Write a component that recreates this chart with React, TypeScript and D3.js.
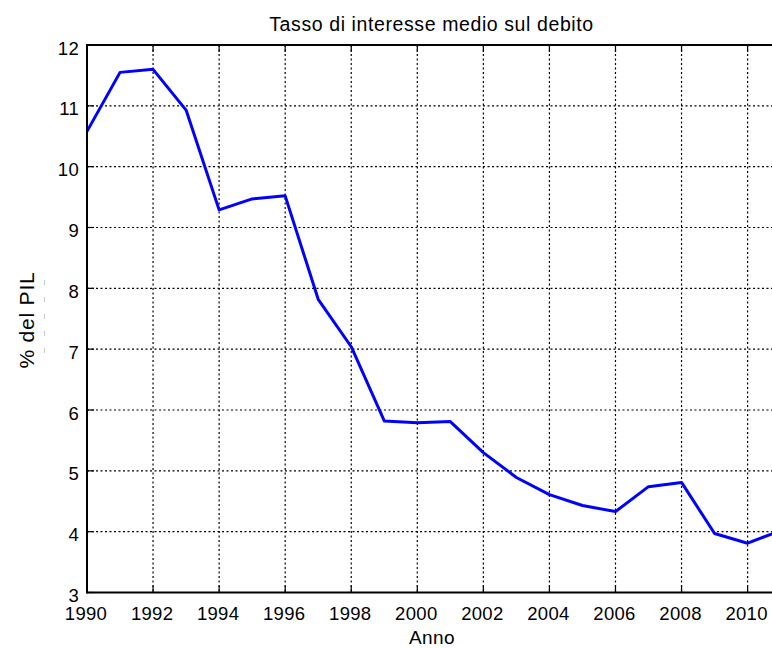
import React from "react";
import * as d3 from "d3";

const years = [1990, 1991, 1992, 1993, 1994, 1995, 1996, 1997, 1998, 1999, 2000, 2001, 2002, 2003, 2004, 2005, 2006, 2007, 2008, 2009, 2010, 2011];
const rates = [10.58, 11.55, 11.6, 10.93, 9.29, 9.47, 9.52, 7.82, 7.04, 5.82, 5.79, 5.81, 5.3, 4.89, 4.61, 4.43, 4.33, 4.74, 4.81, 3.97, 3.81, 4.02];
const xTicks = [1990, 1992, 1994, 1996, 1998, 2000, 2002, 2004, 2006, 2008, 2010];
const yTicks = [3, 4, 5, 6, 7, 8, 9, 10, 11, 12];
const title = "Tasso di interesse medio sul debito";
const xLabel = "Anno";
const yLabel = "% del PIL";

const W = 772;
const H = 648;
const left = 87;
const top = 45;
const bottom = 592.5;
const pxPerYear = 33.03;

export default function App() {
  const x = d3.scaleLinear().domain([1990, 2011]).range([left, left + 21 * pxPerYear]);
  const y = d3.scaleLinear().domain([3, 12]).range([bottom, top]);
  const line = d3
    .line<number>()
    .x((_, i) => x(years[i]))
    .y((d) => y(d));
  const right = x(2011);
  const font = "'Liberation Sans', Arial, Helvetica, sans-serif";
  return (
    <svg
      width={W}
      height={H}
      style={{ position: "absolute", left: 0, top: 0, background: "#fff" }}
      fontFamily={font}
    >
      <rect x={0} y={0} width={W} height={H} fill="#fff" />
      {/* grid */}
      {xTicks.slice(1).map((t) => (
        <line key={"gx" + t} x1={x(t)} x2={x(t)} y1={top} y2={bottom} stroke="#000" strokeWidth={1.2} strokeDasharray="2,2.5" />
      ))}
      {yTicks.slice(1, -1).map((t) => (
        <line key={"gy" + t} x1={left} x2={right} y1={y(t)} y2={y(t)} stroke="#000" strokeWidth={1.2} strokeDasharray="2,2.5" />
      ))}
      {/* ticks */}
      {xTicks.map((t) => (
        <g key={"tx" + t}>
          <line x1={x(t)} x2={x(t)} y1={bottom} y2={bottom - 7} stroke="#000" strokeWidth={1.2} />
          <line x1={x(t)} x2={x(t)} y1={top} y2={top + 7} stroke="#000" strokeWidth={1.2} />
        </g>
      ))}
      {yTicks.map((t) => (
        <line key={"ty" + t} x1={left} x2={left + 7} y1={y(t)} y2={y(t)} stroke="#000" strokeWidth={1.2} />
      ))}
      {/* data line */}
      <path d={line(rates) || ""} fill="none" stroke="#0000ff" strokeWidth={3} strokeLinejoin="round" />
      {/* axes box */}
      <line x1={left} x2={right} y1={top} y2={top} stroke="#000" strokeWidth={2} />
      <line x1={left} x2={right} y1={bottom} y2={bottom} stroke="#000" strokeWidth={2} />
      <line x1={left} x2={left} y1={top - 1} y2={bottom + 1} stroke="#000" strokeWidth={2} />
      {/* tick labels */}
      {xTicks.map((t) => (
        <text key={"lx" + t} x={x(t) - 1} y={620} textAnchor="middle" fontSize={18.5} letterSpacing={0.3} fill="#000">
          {t}
        </text>
      ))}
      {yTicks.map((t) => (
        <text key={"ly" + t} x={79} y={y(t) + 9.5} textAnchor="end" fontSize={18.5} letterSpacing={0.3} fill="#000">
          {t}
        </text>
      ))}
      <text x={431.5} y={31.3} textAnchor="middle" fontSize={19.5} letterSpacing={0.6} fill="#000">
        {title}
      </text>
      <text x={432} y={644} textAnchor="middle" fontSize={19} letterSpacing={0.4} fill="#000">
        {xLabel}
      </text>
      <text transform={`translate(33.5,320) rotate(-90)`} textAnchor="middle" fontSize={21} letterSpacing={0.8} fill="#000">
        {yLabel}
      </text>
      {/* faint ghost dashes beside the y label */}
      <line x1={44.5} x2={44.5} y1={280} y2={358} stroke="#c8c8c8" strokeWidth={1} strokeDasharray="5,12" />
    </svg>
  );
}
